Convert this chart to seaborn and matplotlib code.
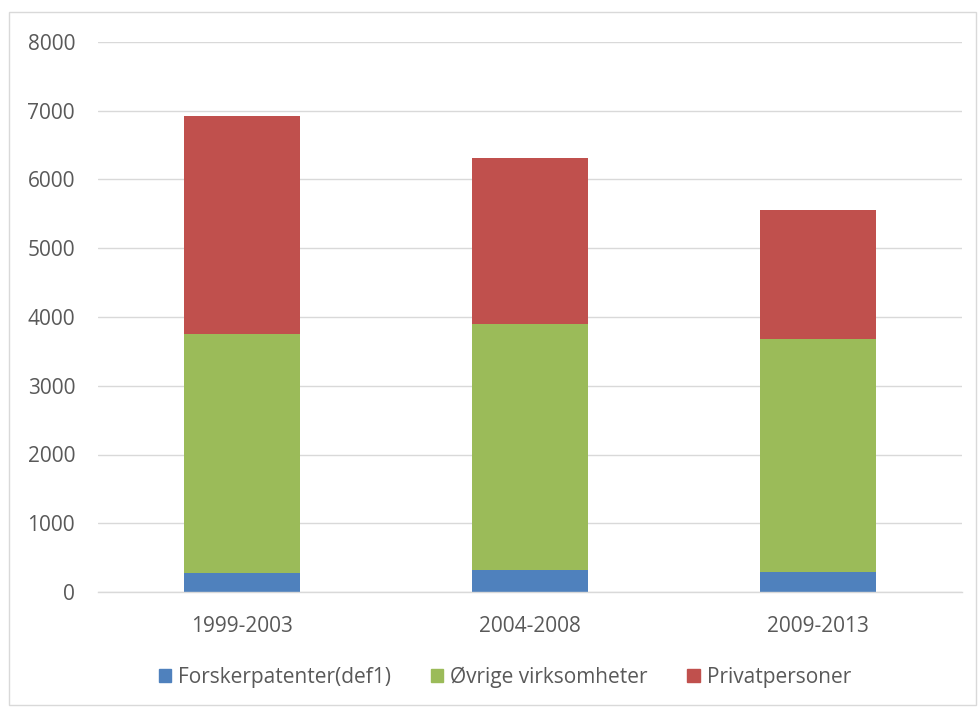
import matplotlib
matplotlib.use("Agg")
import matplotlib.pyplot as plt
import seaborn as sns
import numpy as np
import pandas as pd
from matplotlib.patches import Rectangle

categories = ["1999-2003", "2004-2008", "2009-2013"]
forsker = [272, 320, 286]
ovrige = [3474, 3580, 3401]
privat = [3173, 2413, 1875]
series_names = ["Forskerpatenter(def1)", "Øvrige virksomheter", "Privatpersoner"]
colors = ["#4F81BD", "#9BBB59", "#C0504D"]
yticks = [0, 1000, 2000, 3000, 4000, 5000, 6000, 7000, 8000]

sns.set_theme(style="white")
plt.rcParams['font.family'] = ['Open Sans', 'DejaVu Sans']

fig = plt.figure(figsize=(9.79, 7.08), dpi=100)
ax = fig.add_axes([98/979, 1 - 592/708, (962-98)/979, (592-42)/708])

df = pd.DataFrame({"cat": categories, "f": forsker, "o": ovrige, "p": privat})
bottoms = np.zeros(len(categories))
for col, name, c in zip(["f", "o", "p"], series_names, colors):
    sns.barplot(data=df, x="cat", y=col, color=c, width=0.403, bottom=bottoms,
                label=name, ax=ax, saturation=1, linewidth=0)
    bottoms = bottoms + df[col].values

ax.set_ylim(0, 8000)
ax.set_xlim(-0.5, 2.5)
ax.set_yticks(yticks)
ax.set_yticklabels([str(v) for v in yticks])
ax.set_xlabel("")
ax.set_ylabel("")
ax.yaxis.grid(True, color="#D9D9D9", linewidth=1)
ax.set_axisbelow(True)
for s in ["left", "right", "top"]:
    ax.spines[s].set_visible(False)
ax.spines["bottom"].set_color("#D9D9D9")
ax.spines["bottom"].set_linewidth(1)
ax.tick_params(axis="both", length=0, labelsize=15, colors="#595959")
ax.tick_params(axis="y", pad=16.5)
ax.tick_params(axis="x", pad=17)

handles = [Rectangle((0, 0), 1, 1, color=c) for c in colors]
fig.legend(handles, series_names, loc="center", bbox_to_anchor=(505/979, 1 - 677/708),
           ncol=3, frameon=False, fontsize=15, labelcolor="#595959",
           handlelength=0.6, handleheight=0.6, handletextpad=0.33, columnspacing=1.9)
if ax.get_legend() is not None:
    ax.get_legend().remove()

fig.patches.append(Rectangle((9/979, 1 - 705/708), (976-9)/979, (705-12)/708,
                             transform=fig.transFigure, fill=False,
                             edgecolor="#D9D9D9", linewidth=1))

fig.savefig("out.png", dpi=100)
